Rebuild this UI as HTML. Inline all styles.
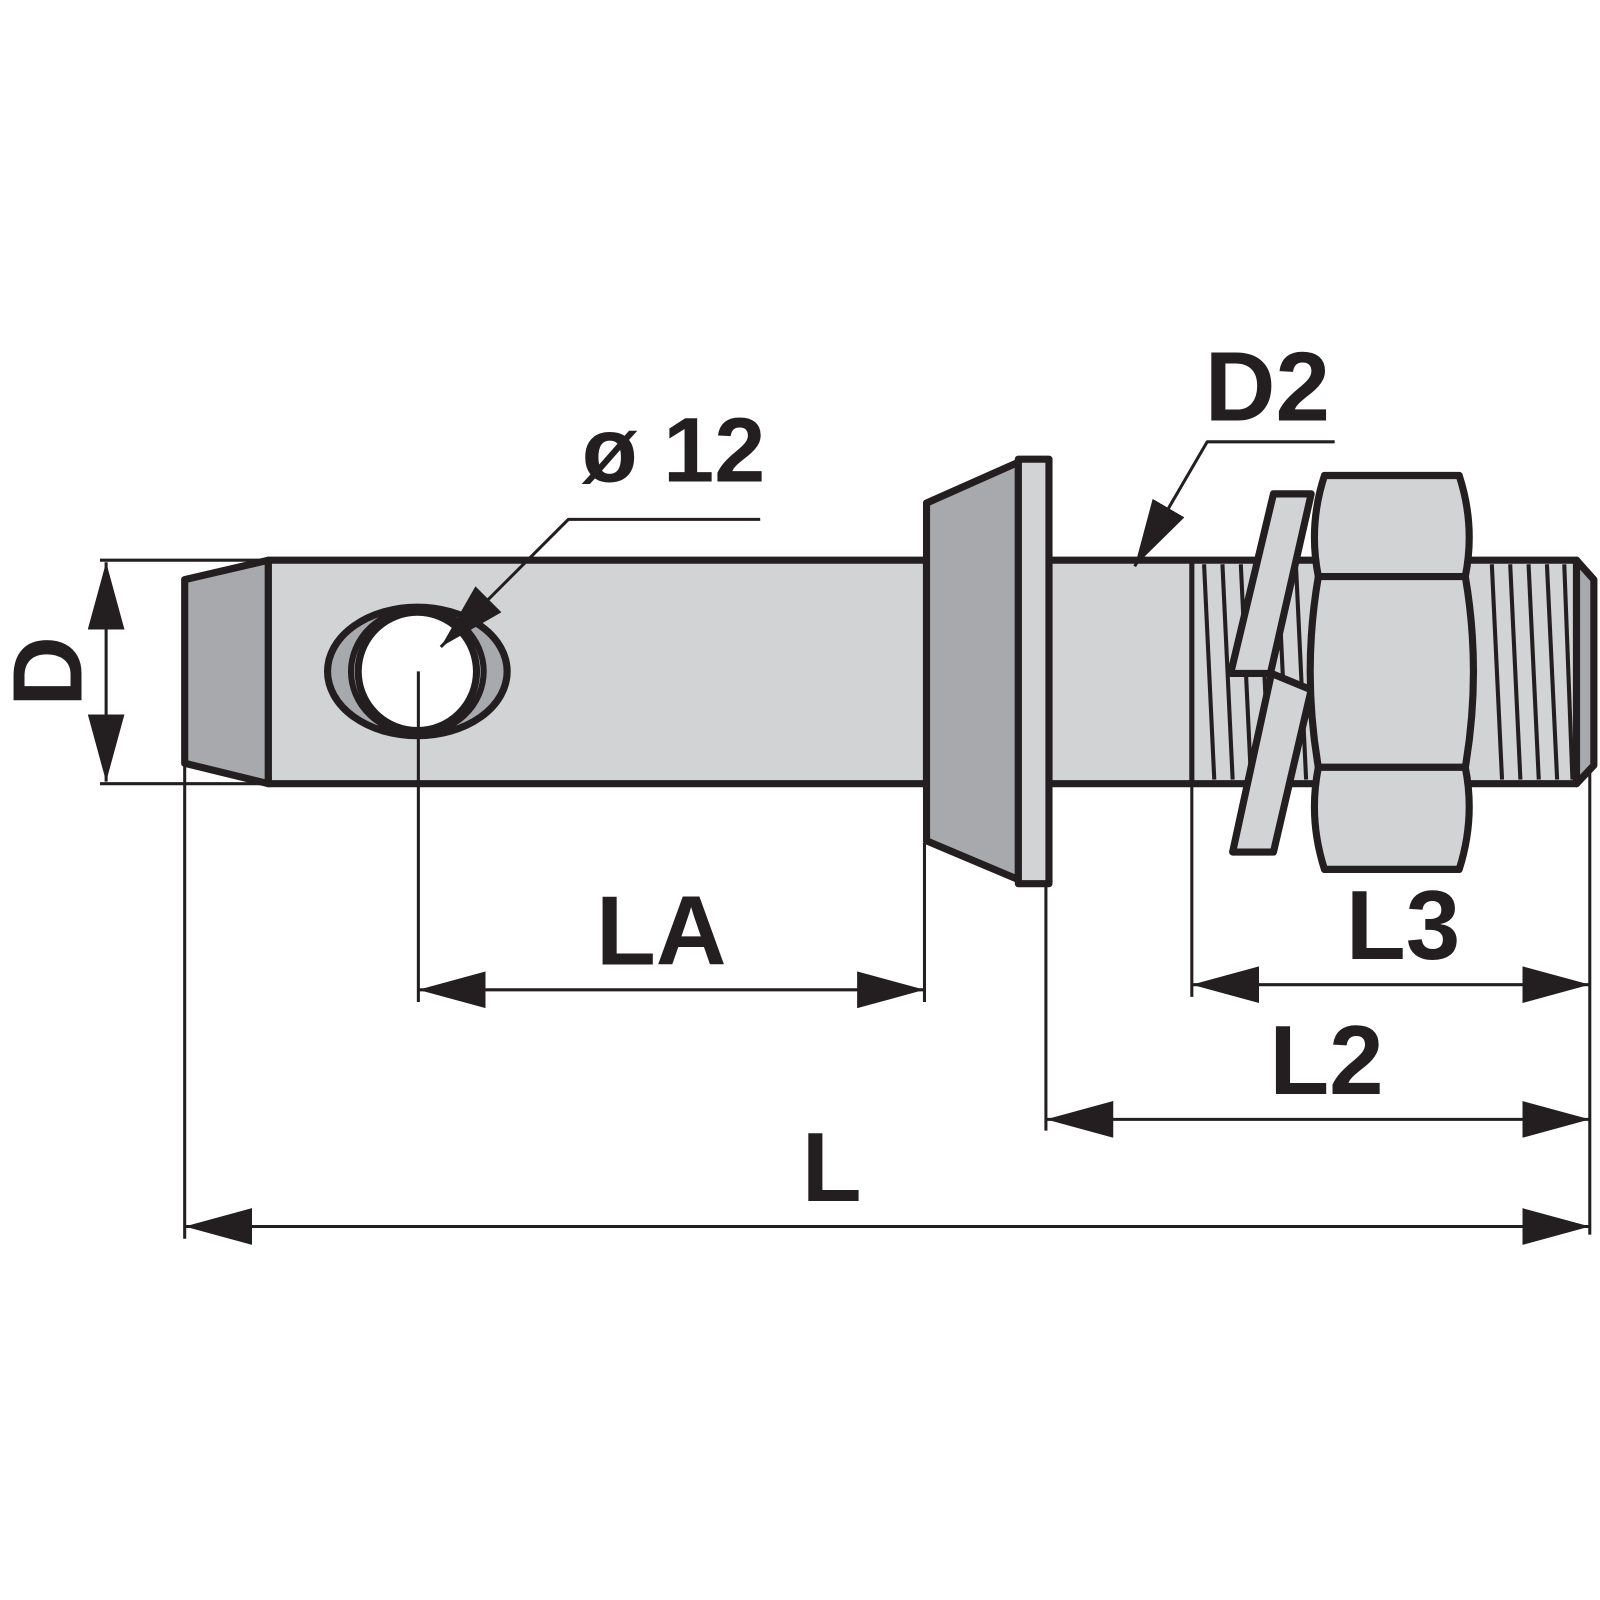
<!DOCTYPE html>
<html><head><meta charset="utf-8"><style>html,body{margin:0;padding:0;background:#fff}svg{display:block}</style></head>
<body>
<svg width="1600" height="1600" viewBox="0 0 1600 1600" xmlns="http://www.w3.org/2000/svg">
<defs>
<marker id="a" viewBox="0 0 66 36" refX="66" refY="18" markerWidth="66" markerHeight="36" markerUnits="userSpaceOnUse" orient="auto-start-reverse"><path d="M0,0 L66,18 L0,36 Z" fill="#231f20"/></marker>
</defs>
<g transform="scale(1.0204)">
<g stroke="#231f20" stroke-linejoin="round">
<polygon points="181,568 263,549 263,768 181,748" fill="#a7a9ac" stroke-width="7"/>
<rect x="263" y="549" width="645" height="219" fill="#d1d3d4" stroke-width="7"/>
<!-- hole -->
<ellipse cx="409" cy="658" rx="88" ry="63" fill="#a7a9ac" stroke-width="7"/>
<ellipse cx="409" cy="658" rx="65" ry="61" fill="#d1d3d4" stroke-width="6"/>
<circle cx="409" cy="658" r="58" fill="#fff" stroke-width="7"/>
<!-- shaft 2 -->
<rect x="1028" y="549" width="517" height="219" fill="#d1d3d4" stroke-width="7"/>
<polygon points="1545,549 1562,568 1562,750 1545,768" fill="#a7a9ac" stroke-width="7"/>
<line x1="1168" y1="549" x2="1168" y2="768" stroke-width="5"/>
<g stroke-width="4">
<line x1="1180" y1="553" x2="1190" y2="764"/><line x1="1198" y1="553" x2="1208" y2="764"/>
<line x1="1216" y1="553" x2="1226" y2="764"/><line x1="1234" y1="553" x2="1244" y2="764"/>
<line x1="1252" y1="553" x2="1262" y2="764"/><line x1="1270" y1="553" x2="1280" y2="764"/>
<line x1="1462" y1="553" x2="1472" y2="764"/><line x1="1480" y1="553" x2="1490" y2="764"/>
<line x1="1498" y1="553" x2="1508" y2="764"/><line x1="1516" y1="553" x2="1526" y2="764"/>
<line x1="1533" y1="553" x2="1541" y2="764"/>
</g>
<!-- collar -->
<polygon points="908,493 998,453 998,862 908,824" fill="#a7a9ac" stroke-width="7"/>
<rect x="998" y="450" width="30" height="416" fill="#d1d3d4" stroke-width="7"/>
<!-- washer -->
<polygon points="1246,660 1285,676 1248,835 1208,835" fill="#d1d3d4" stroke-width="7"/>
<polygon points="1248,484 1285,484 1245,660 1206,660" fill="#d1d3d4" stroke-width="7"/>
<!-- nut -->
<path d="M1298,466 L1430,466 Q1446,515 1436,565 L1292,565 Q1282,515 1298,466 Z" fill="#d1d3d4" stroke-width="7"/>
<path d="M1292,565 L1436,565 Q1452,658 1436,752 L1292,752 Q1276,658 1292,565 Z" fill="#d1d3d4" stroke-width="7"/>
<path d="M1292,752 L1436,752 Q1446,802 1430,852 L1298,852 Q1282,802 1292,752 Z" fill="#d1d3d4" stroke-width="7"/>
<g stroke-width="3" fill="none">
<line x1="98" y1="549" x2="263" y2="549"/><line x1="98" y1="768" x2="263" y2="768"/>
<line x1="410" y1="658" x2="410" y2="982"/>
<line x1="906" y1="826" x2="906" y2="982"/>
<line x1="1168" y1="768" x2="1168" y2="977"/>
<line x1="1025" y1="866" x2="1025" y2="1108"/>
<line x1="181" y1="748" x2="181" y2="1214"/>
<line x1="1558" y1="752" x2="1558" y2="1210"/>
<line x1="104" y1="551" x2="104" y2="766" marker-start="url(#a)" marker-end="url(#a)"/>
<line x1="410" y1="970" x2="906" y2="970" marker-start="url(#a)" marker-end="url(#a)"/>
<line x1="1168" y1="965" x2="1558" y2="965" marker-start="url(#a)" marker-end="url(#a)"/>
<line x1="1025" y1="1097" x2="1558" y2="1097" marker-start="url(#a)" marker-end="url(#a)"/>
<line x1="181" y1="1202" x2="1558" y2="1202" marker-start="url(#a)" marker-end="url(#a)"/>
<polyline points="1308,433 1183,433 1112,555" marker-end="url(#a)"/>
<polyline points="745,509 557,509 432,634" marker-end="url(#a)"/>
</g>
</g>
<g font-family="Liberation Sans, sans-serif" font-weight="bold" fill="#231f20" text-anchor="middle">
<text x="648" y="945" font-size="96">LA</text>
<text x="1375" y="940" font-size="96">L3</text>
<text x="1300" y="1072" font-size="96">L2</text>
<text x="815" y="1177" font-size="96">L</text>
<text x="1242" y="412" font-size="96">D2</text>
<text x="660" y="472" font-size="90">ø 12</text>
<text transform="translate(80,658) rotate(-90)" font-size="96">D</text>
</g>
</g>
</svg>
</body></html>
